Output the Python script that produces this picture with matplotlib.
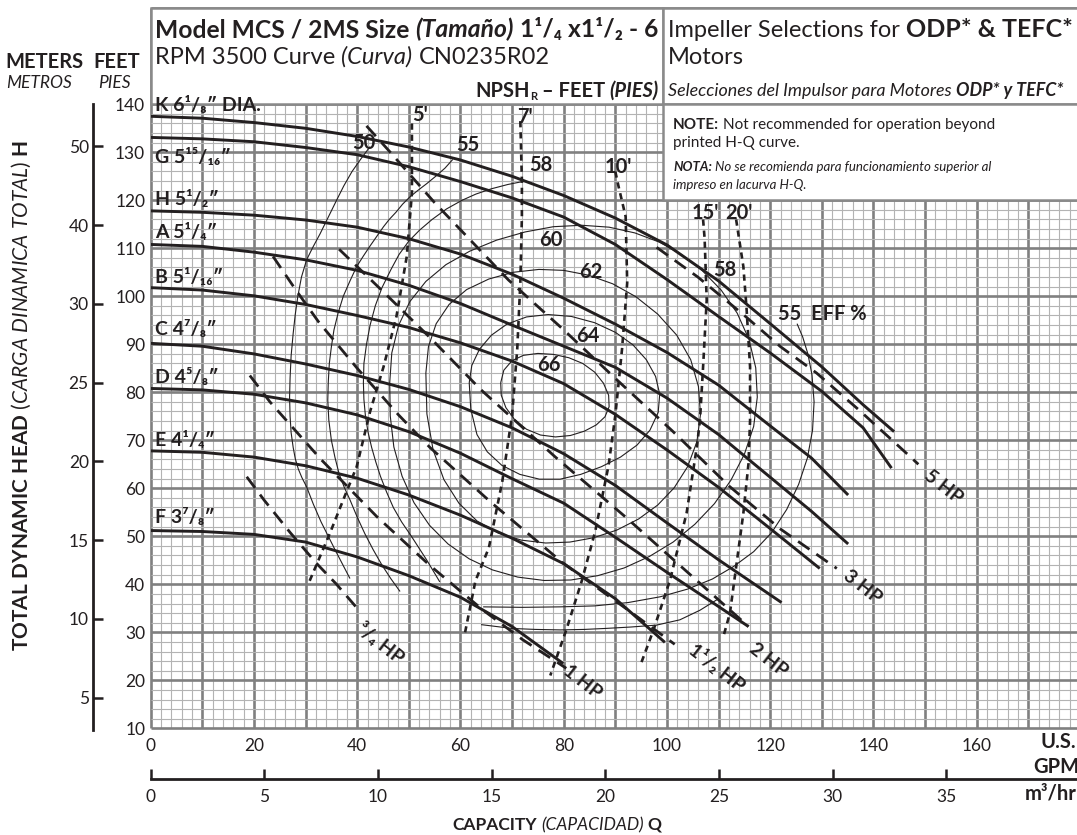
import matplotlib
matplotlib.use("Agg")
import matplotlib.pyplot as plt
from matplotlib.patches import Rectangle

plt.rcParams["font.family"] = ["Lato", "DejaVu Sans"]
plt.rcParams["mathtext.fontset"] = "custom"
plt.rcParams["mathtext.rm"] = "Lato"
plt.rcParams["mathtext.it"] = "Lato:italic"
plt.rcParams["mathtext.bf"] = "Lato:bold"
plt.rcParams["lines.scale_dashes"] = False
plt.rcParams["lines.solid_capstyle"] = "butt"
plt.rcParams["lines.dash_capstyle"] = "butt"
plt.rcParams["lines.solid_joinstyle"] = "round"

INK = "#231f20"
BOLD = "bold"
W_PX, H_PX = 1077, 835

# --- impeller H-Q curves (US GPM, feet) ---
k_q = [0, 10, 20, 30, 40, 50, 60, 70, 80, 90, 100, 110, 120, 130, 138, 144]
k_h = [137.5, 137.1, 136.2, 135.0, 133.3, 131.1, 128.4, 125.0, 121.0, 116.3, 110.7, 103.2,
       94.3, 85.3, 77.4, 71.8]
g_q = [0, 10, 20, 30, 40, 50, 60, 70, 80, 90, 100, 110, 120, 130, 138, 143.5]
g_h = [133.1, 132.8, 132.2, 131.0, 129.5, 127.0, 123.9, 120.5, 116.5, 110.8, 103.5, 95.8,
       88.2, 80.2, 72.6, 64.2]
h_q = [0, 10, 20, 30, 40, 50, 60, 70, 80, 90, 100, 110, 120, 128, 135.1]
h_h = [117.8, 117.5, 116.9, 115.9, 114.4, 112.0, 108.8, 104.6, 99.6, 94.2, 88.3, 81.5, 73.0,
       66.3, 58.6]
a_q = [0, 10, 20, 30, 40, 50, 60, 70, 80, 90, 100, 110, 120, 128, 135.1]
a_h = [110.8, 110.4, 109.2, 107.6, 105.4, 102.3, 98.5, 94.0, 89.6, 85.2, 78.8, 71.2, 62.3,
       55.2, 48.4]
b_q = [0, 10, 20, 30, 40, 50, 60, 70, 80, 90, 100, 110, 120, 129.6]
b_h = [101.8, 101.3, 100.1, 98.3, 96.0, 93.5, 90.3, 86.5, 81.8, 75.4, 68.0, 60.2, 51.6, 43.3]
c_q = [0, 10, 20, 30, 40, 50, 60, 70, 80, 90, 100, 110, 122.2]
c_h = [90.2, 89.6, 88.0, 85.9, 83.5, 80.6, 77.0, 72.6, 67.2, 60.6, 52.8, 45.1, 36.2]
d_q = [0, 10, 20, 30, 40, 50, 60, 70, 80, 90, 100, 108, 115.8]
d_h = [80.8, 80.5, 79.6, 77.8, 75.3, 71.8, 67.3, 62.0, 56.9, 49.8, 42.5, 36.8, 31.2]
e_q = [0, 10, 20, 30, 40, 50, 60, 70, 80, 90, 99.6]
e_h = [67.8, 67.5, 66.5, 64.7, 62.1, 58.6, 54.4, 49.6, 44.3, 37.0, 27.9]
f_q = [0, 10, 20, 30, 40, 50, 60, 70, 79.9]
f_h = [51.2, 51.0, 50.4, 48.8, 45.7, 41.8, 37.3, 31.2, 23.5]

imp_labels = ["K 6¹/₈″ DIA.", "G 5¹⁵/₁₆″", "H 5¹/₂″", "A 5¹/₄″", "B 5¹/₁₆″",
              "C 4⁷/₈″", "D 4⁵/₈″", "E 4¹/₄″", "F 3⁷/₈″"]
imp_label_ft = [138.7, 127.7, 119.0, 112.1, 102.8, 91.9, 82.0, 68.8, 52.7]

# --- efficiency contours ---
eff66_q = [67.8, 68.4, 70.0, 72.2, 75.0, 78.0, 81.0, 83.7, 86.0, 87.7, 88.7, 88.8, 88.0, 86.3,
           84.0, 81.3, 78.4, 75.5, 72.8, 70.5, 68.8, 67.9, 67.8]
eff66_h = [82.0, 84.6, 86.6, 87.7, 88.1, 87.9, 87.2, 86.0, 84.2, 81.9, 79.4, 77.0, 74.9, 73.2,
           71.9, 71.0, 70.7, 71.1, 72.3, 74.3, 76.8, 79.4, 82.0]
eff64_q = [61.7, 62.2, 63.7, 66.0, 69.0, 72.8, 77.0, 81.5, 86.0, 90.0, 93.4, 96.0, 97.8, 98.6,
           98.3, 96.7, 94.2, 91.0, 87.3, 83.3, 79.3, 75.3, 71.5, 68.0, 65.2, 63.2, 62.0, 61.7]
eff64_h = [82.0, 85.6, 89.0, 91.9, 94.2, 95.7, 96.2, 95.8, 94.5, 92.5, 89.9, 86.8, 83.3, 79.6,
           75.8, 72.1, 69.0, 66.5, 64.5, 62.9, 61.9, 61.9, 62.9, 64.8, 67.6, 71.2, 76.5, 82.0]
eff62_q = [53.3, 53.8, 55.3, 57.8, 61.2, 65.5, 70.2, 75.2, 80.0, 84.8, 89.5, 94.0, 98.2, 101.9,
           104.6, 106.1, 106.5, 105.8, 104.0, 101.4, 98.2, 94.5, 90.3, 85.8, 81.2, 76.5, 71.8,
           67.3, 63.2, 59.7, 56.8, 54.7, 53.5, 53.3]
eff62_h = [84.0, 89.5, 94.3, 98.3, 101.4, 103.6, 105.0, 105.6, 105.4, 104.4, 102.6, 99.9, 96.3,
           91.9, 86.8, 81.2, 75.4, 69.7, 64.5, 60.1, 56.5, 53.6, 51.3, 49.7, 48.8, 48.6, 49.2,
           50.7, 53.2, 56.9, 61.8, 68.0, 75.5, 84.0]
eff60_q = [46.3, 46.7, 48.0, 50.2, 53.3, 57.2, 61.8, 67.0, 72.5, 78.0, 83.5, 88.8, 93.8, 98.5,
           102.8, 106.8, 110.5, 113.6, 115.9, 117.2, 117.5, 116.8, 115.0, 112.4, 109.2, 105.4,
           101.2, 96.6, 91.7, 86.6, 81.4, 76.2, 71.1, 66.2, 61.7, 57.6, 54.0, 51.0, 48.7, 47.1,
           46.4, 46.3]
eff60_h = [82.0, 88.2, 93.9, 98.9, 103.1, 106.6, 109.4, 111.7, 113.4, 114.5, 114.8, 114.4, 113.2,
           111.3, 108.7, 105.4, 101.3, 96.5, 91.0, 85.1, 79.0, 72.9, 67.1, 61.7, 56.8, 52.5,
           48.8, 45.8, 43.4, 41.8, 40.9, 40.8, 41.5, 43.0, 45.3, 48.4, 52.3, 57.0, 62.5, 68.6,
           75.1, 82.0]
eff58a_q = [72.5, 69.2, 66.0, 63.0, 60.3, 57.3, 54.5, 52.1, 50.0, 48.1, 46.5, 44.8, 43.5, 42.5,
            41.8, 41.3, 41.2, 41.3, 41.6, 42.1, 42.8, 43.6, 44.5, 45.7, 47.0, 48.6, 50.5, 52.0,
            53.5, 56.0]
eff58a_h = [124.0, 123.3, 122.4, 121.3, 120.0, 118.2, 116.0, 113.8, 111.5, 108.7, 105.5, 101.8,
            98.0, 94.0, 90.0, 86.0, 82.0, 78.5, 75.0, 71.7, 68.5, 65.5, 62.5, 59.2, 56.0, 53.0,
            50.0, 47.5, 45.0, 40.5]
eff58b_q = [64.4, 72.0, 79.3, 86.0, 92.5, 98.7, 104.0, 108.8, 112.9, 116.8, 120.3, 123.2, 125.5,
            127.2, 128.2, 128.5, 128.1, 127.3, 126.3, 125.2]
eff58b_h = [35.3, 35.2, 35.3, 35.5, 36.2, 37.4, 39.0, 41.1, 43.7, 46.8, 50.8, 55.6, 60.8, 66.3,
            72.1, 78.0, 83.6, 88.0, 91.5, 94.3]
eff55a_q = [58.5, 57.0, 55.2, 53.5, 51.8, 50.2, 48.8, 47.5, 46.2, 45.1, 43.8, 42.5, 41.2, 39.9,
            38.6, 37.3, 36.3, 35.5, 35.0, 34.6, 34.4, 34.3, 34.5, 35.0, 35.7, 36.5, 37.5, 38.6,
            40.0, 41.5, 43.1, 44.8, 46.5, 48.3]
eff55a_h = [128.5, 126.7, 125.0, 123.5, 122.1, 120.7, 119.2, 117.5, 116.0, 114.5, 112.5, 110.5,
            108.4, 106.2, 103.2, 100.0, 96.5, 93.0, 89.5, 86.0, 82.2, 78.4, 74.2, 70.0, 66.4,
            63.0, 60.2, 57.6, 54.0, 50.5, 47.2, 44.0, 41.2, 38.5]
eff55b_q = [64.0, 67.0, 70.0, 74.5, 79.3, 84.0, 88.0, 93.0, 98.0, 102.5, 106.4, 110.0]
eff55b_h = [31.6, 31.2, 30.8, 30.6, 30.5, 30.6, 30.8, 31.1, 31.5, 32.6, 34.6, 37.0]
eff50_q = [42.5, 40.7, 39.0, 37.4, 36.0, 34.4, 32.8, 31.4, 30.2, 29.2, 28.5, 28.0, 27.6, 27.2,
           27.0, 26.9, 27.0, 27.2, 27.6, 28.0, 28.6, 29.3, 30.2, 31.5, 33.0, 34.4, 35.8, 37.2,
           38.6]
eff50_h = [131.2, 128.6, 126.0, 123.0, 120.0, 116.5, 113.0, 110.2, 107.6, 104.0, 100.0, 96.2,
           92.3, 87.6, 83.0, 79.0, 75.0, 71.6, 68.5, 66.2, 64.0, 62.2, 60.3, 56.7, 53.0, 50.0,
           47.0, 44.1, 41.2]

eff_labels = ["50", "55", "58", "60", "62", "64", "66", "58", "55  EFF %"]
eff_label_q = [41.2, 61.5, 75.6, 77.6, 85.2, 84.6, 77.1, 111.2, 121.6]
eff_label_h = [131.9, 131.5, 127.4, 111.8, 105.0, 91.8, 85.6, 105.5, 96.3]

# --- NPSHr curves (feet) ---
n5_q = [50.6, 50.6, 49.6, 47.6, 45.1, 42.5, 39.9, 37.3, 34.7, 30.7]
n5_h = [136.0, 121.5, 108.3, 95.8, 85.3, 76.0, 64.5, 57.6, 50.6, 40.5]
n7_q = [71.6, 71.9, 71.9, 71.6, 71.0, 70.0, 68.1, 65.5, 62.9, 60.9]
n7_h = [136.5, 124.0, 116.6, 102.8, 89.0, 75.2, 61.4, 47.6, 40.7, 30.0]
n10_q = [90.0, 90.6, 92.0, 92.3, 91.3, 90.0, 88.7, 86.1, 83.5, 80.5, 77.4]
n10_h = [126.0, 123.0, 116.6, 102.8, 89.0, 75.2, 64.8, 51.0, 40.7, 30.5, 21.0]
n15_q = [107.0, 107.3, 107.7, 107.0, 106.4, 105.8, 103.8, 100.6, 97.4, 94.8]
n15_h = [116.0, 112.0, 99.2, 85.3, 74.2, 68.7, 54.8, 40.9, 30.5, 23.0]
n20_q = [113.4, 114.8, 115.4, 116.1, 116.1, 115.8, 114.8, 113.5, 112.2, 110.9]
n20_h = [116.0, 106.2, 97.8, 85.3, 74.2, 65.2, 54.8, 44.4, 34.0, 29.0]
npsh_labels = ["5'", "7'", "10'", "15'", "20'"]
npsh_label_q = [52.2, 72.5, 90.6, 107.4, 113.9]
npsh_label_h = [137.8, 137.4, 127.0, 117.3, 117.3]

# --- motor horsepower limit lines ---
hp34_q = [18.6, 22.0, 27.0, 32.0, 36.0, 40.0]
hp34_h = [62.4, 57.5, 50.8, 44.5, 40.0, 35.0]
hp1_q = [19.2, 23.1, 33.0, 43.8, 54.0, 64.4, 72.0, 80.5]
hp1_h = [83.5, 78.0, 66.0, 54.1, 44.0, 34.6, 28.5, 22.5]
hp15_q = [23.7, 28.0, 32.5, 40.0, 48.0, 54.1, 66.0, 79.9, 92.0, 101.5]
hp15_h = [108.3, 101.5, 94.7, 85.0, 75.3, 68.5, 57.0, 44.4, 35.0, 27.5]
hp2_q = [36.5, 45.0, 54.0, 64.0, 78.4, 92.0, 104.0, 115.8]
hp2_h = [109.8, 101.0, 91.5, 80.5, 66.5, 54.0, 42.5, 31.2]
hp3_q = [41.8, 46.0, 55.0, 69.3, 80.0, 90.3, 101.0, 112.0, 122.0, 132.9]
hp3_h = [135.5, 130.5, 119.5, 103.4, 93.0, 82.6, 72.0, 60.5, 51.5, 43.3]
hp5_q = [98.0, 106.0, 115.0, 122.0, 129.0, 137.0, 146.7, 148.7]
hp5_h = [110.2, 104.0, 96.0, 89.5, 84.0, 76.5, 67.0, 65.0]
hp_labels = ["³/₄ HP", "1 HP", "1¹/₂ HP", "2 HP", "3 HP", "5 HP"]
hp_label_q = [44.4, 83.6, 109.6, 119.6, 137.9, 153.5]
hp_label_h = [27.7, 19.6, 22.6, 24.2, 39.5, 60.3]

# secondary scales
gpm_ticks = [0, 20, 40, 60, 80, 100, 120, 140, 160]
ft_ticks = [10, 20, 30, 40, 50, 60, 70, 80, 90, 100, 110, 120, 130, 140]
m_ticks = [5, 10, 15, 20, 25, 30, 35, 40]
m_tick_labels = ["5", "10", "15", "20", "25", "30", "40", "50"]
m3h_ticks = [0, 5, 10, 15, 20, 25, 30, 35]

FT_PER_M = 3.281
M3H_PER_GPM = 0.22712

fig = plt.figure(figsize=(W_PX / 100, H_PX / 100), dpi=100)
rend = fig.canvas.get_renderer()

X0 = 150.7
PX_GPM = 5.1625
Y10 = 728.3
PX_FT = 4.8
L = X0 / W_PX
B = 1 - Y10 / H_PX
Wd = 180 * PX_GPM / W_PX
Ht = 150 * PX_FT / H_PX

ax = fig.add_axes([L, B, Wd, Ht])
ax.set_xlim(0, 180)
ax.set_ylim(10, 160)
ax.set_xticks(range(0, 181, 10))
ax.set_xticks(range(0, 181, 2), minor=True)
ax.set_yticks(range(10, 161, 10))
ax.set_yticks(range(10, 161, 2), minor=True)
ax.set_xticklabels([str(v) if v in gpm_ticks else "" for v in range(0, 181, 10)])
ax.set_yticklabels([str(v) if v in ft_ticks else "" for v in range(10, 161, 10)])
ax.tick_params(which="both", length=0)
ax.tick_params(axis="x", pad=7, labelsize=12.5, labelcolor=INK)
ax.tick_params(axis="y", pad=4, labelsize=12.5, labelcolor=INK)
ax.grid(which="minor", color="#b3b3b3", lw=0.8)
ax.grid(which="major", color="#808080", lw=1.9)
ax.set_axisbelow(True)
for gl in ax.get_xgridlines() + ax.get_ygridlines():
    gl.set_clip_on(False)
for sp in ax.spines.values():
    sp.set_visible(False)

# efficiency contours
for q, h in [(eff66_q, eff66_h), (eff64_q, eff64_h), (eff62_q, eff62_h), (eff60_q, eff60_h),
             (eff58a_q, eff58a_h), (eff58b_q, eff58b_h), (eff55a_q, eff55a_h),
             (eff55b_q, eff55b_h), (eff50_q, eff50_h)]:
    ax.plot(q, h, color=INK, lw=0.8, zorder=2)

# NPSH lines
for q, h in [(n5_q, n5_h), (n7_q, n7_h), (n10_q, n10_h), (n15_q, n15_h), (n20_q, n20_h)]:
    ax.plot(q, h, color=INK, lw=1.9, dashes=(4.5, 3.5), zorder=3)

# HP lines
for q, h in [(hp34_q, hp34_h), (hp1_q, hp1_h), (hp15_q, hp15_h), (hp2_q, hp2_h),
             (hp3_q, hp3_h), (hp5_q, hp5_h)]:
    ax.plot(q, h, color=INK, lw=2.0, dashes=(10, 6), zorder=3)

# impeller curves
imp_curves = [(k_q, k_h), (g_q, g_h), (h_q, h_h), (a_q, a_h), (b_q, b_h),
              (c_q, c_h), (d_q, d_h), (e_q, e_h), (f_q, f_h)]
for (q, h), lab, ly in zip(imp_curves, imp_labels, imp_label_ft):
    ax.plot(q, h, color=INK, lw=2.1, zorder=4)
    ax.text(0.9, ly, lab, fontsize=14, fontweight=BOLD, color=INK,
            va="baseline", ha="left", zorder=7)

for s, q, h in zip(eff_labels, eff_label_q, eff_label_h):
    ax.text(q, h, s, fontsize=14.5, fontweight=BOLD, color=INK,
            ha="left" if "EFF" in s else "center", va="center", zorder=7)
for s, q, h in zip(npsh_labels, npsh_label_q, npsh_label_h):
    ax.text(q, h, s, fontsize=14.5, fontweight=BOLD, color=INK, ha="center", va="center", zorder=7)
for s, q, h in zip(hp_labels, hp_label_q, hp_label_h):
    ax.text(q, h, s, fontsize=14, fontweight=BOLD, color=INK, ha="center", va="center",
            rotation=-38, rotation_mode="anchor", zorder=7)

# header boxes
for (x, y, w, h) in [(0, 140, 99.3, 20), (99.3, 140, 80.7, 20), (99.3, 120, 80.7, 20)]:
    ax.add_patch(Rectangle((x, y), w, h, facecolor="white", edgecolor="#8a8a8a",
                           lw=1.8, zorder=5, clip_on=False))

# meters scale
axm = fig.add_axes([93 / W_PX, B, 0.0001, Ht])
axm.set_ylim(10 / FT_PER_M, 160 / FT_PER_M)
axm.patch.set_visible(False)
for k in ["top", "right", "bottom"]:
    axm.spines[k].set_visible(False)
axm.spines["left"].set_linewidth(2.0)
axm.spines["left"].set_color(INK)
axm.spines["left"].set_bounds(9.6 / FT_PER_M, 140 / FT_PER_M)
axm.set_xticks([])
axm.set_yticks(m_ticks)
axm.set_yticklabels(m_tick_labels)
axm.tick_params(axis="y", direction="in", length=7, width=1.8, color=INK,
                labelsize=12.5, labelcolor=INK, pad=3)

# m3/hr scale
Yq = 779.3
axq = fig.add_axes([L, 1 - Yq / H_PX, Wd, 0.0001])
axq.set_xlim(0, 180 * M3H_PER_GPM)
axq.patch.set_visible(False)
for k in ["top", "right", "left"]:
    axq.spines[k].set_visible(False)
axq.spines["bottom"].set_linewidth(2.0)
axq.spines["bottom"].set_color(INK)
axq.set_yticks([])
axq.set_xticks(m3h_ticks)
axq.tick_params(axis="x", direction="in", length=7, width=1.8, color=INK,
                labelsize=12.5, labelcolor=INK, pad=7)


def measure(s, size, weight, style):
    t = fig.text(0, 0, s, fontsize=size, fontweight=weight, fontstyle=style)
    w = t.get_window_extent(rend).width
    t.remove()
    return w


def rich(x, y, parts, size, ha="left"):
    # x, y in image pixels, y is the baseline measured from the top
    items = []
    for p in parts:
        s, wt, st = p[:3]
        sz = p[3] if len(p) > 3 else size
        dy = p[4] if len(p) > 4 else 0
        lead = len(s) - len(s.lstrip(" "))
        trail = len(s) - len(s.rstrip(" "))
        core = s.strip(" ")
        sp = measure("n n", sz, wt, st) - measure("nn", sz, wt, st)
        items.append((core, wt, st, sz, dy, lead * sp, measure(core, sz, wt, st), trail * sp))
    total = sum(it[5] + it[6] + it[7] for it in items)
    pos = {"left": 0, "center": -total / 2, "right": -total}[ha]
    for core, wt, st, sz, dy, a, b, c in items:
        pos += a
        fig.text(x + pos, H_PX - y - dy, core, transform=None, fontsize=sz, fontweight=wt,
                 fontstyle=st, color=INK, ha="left", va="baseline", zorder=8)
        pos += b + c


rich(155, 37, [("Model MCS / 2MS Size ", BOLD, "normal"), ("(Tamaño)", BOLD, "italic"),
               (" 1¹/₄ x1¹/₂ - 6", BOLD, "normal")], 17.7)
rich(155, 63.5, [("RPM 3500 Curve ", "normal", "normal"), ("(Curva)", "normal", "italic"),
                 (" CN0235R02", "normal", "normal")], 17)
rich(659, 97, [("NPSH", BOLD, "normal"), ("R", BOLD, "normal", 8, 3),
               (" – FEET ", BOLD, "normal"), ("(PIES)", BOLD, "italic")], 14.5, ha="right")
rich(668, 37, [("Impeller Selections for ", "normal", "normal"),
               ("ODP* & TEFC*", BOLD, "normal", 18)], 17)
rich(668, 63.5, [("Motors", "normal", "normal")], 17)
rich(668, 96, [("Selecciones del Impulsor para Motores ", "normal", "italic"),
               ("ODP* y TEFC*", BOLD, "italic")], 12.9)
rich(673, 129, [("NOTE:", BOLD, "normal"),
                (" Not recommended for operation beyond", "normal", "normal")], 11)
rich(673, 147, [("printed H-Q curve.", "normal", "normal")], 11)
rich(673, 171, [("NOTA:", BOLD, "italic"),
                (" No se recomienda para funcionamiento superior al", "normal", "italic")], 9.5)
rich(673, 189, [("impreso en lacurva H-Q.", "normal", "italic")], 9.5)

rich(5, 68, [("METERS", BOLD, "normal")], 14.5)
rich(140, 68, [("FEET", BOLD, "normal")], 14.5, ha="right")
rich(6, 88, [("METROS", "normal", "italic")], 12.5)
rich(131, 88, [("PIES", "normal", "italic")], 12.5, ha="right")

fig.text(21 / W_PX, 1 - 395 / H_PX,
         r"$\mathbf{TOTAL\ DYNAMIC\ HEAD}\ \mathit{(CARGA\ DINAMICA\ TOTAL)}\ \mathbf{H}$",
         fontsize=15, color=INK, rotation=90, ha="center", va="center")
rich(557, 830, [("CAPACITY ", BOLD, "normal"), ("(CAPACIDAD)", "normal", "italic"),
                (" Q", BOLD, "normal")], 12.5, ha="center")
rich(1041, 748, [("U.S.", BOLD, "normal")], 14.5)
rich(1033, 773, [("GPM", BOLD, "normal")], 14.5)
rich(1025, 800, [("m³/hr", BOLD, "normal")], 14.5)

fig.savefig("out.png", dpi=100)
plt.close(fig)
